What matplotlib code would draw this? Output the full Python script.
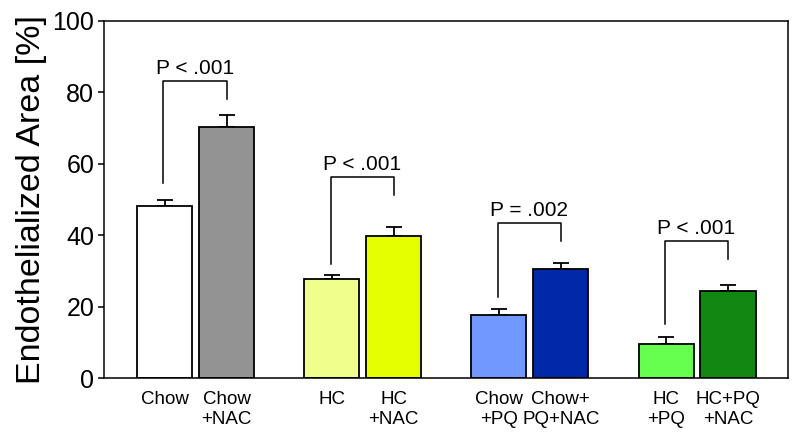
import numpy as np
import matplotlib
matplotlib.use("Agg")
import matplotlib.pyplot as plt

plt.rcParams['font.family'] = ['Liberation Sans', 'DejaVu Sans']

labels = ["Chow", "Chow\n+NAC", "HC", "HC\n+NAC",
          "Chow\n+PQ", "Chow+\nPQ+NAC", "HC\n+PQ", "HC+PQ\n+NAC"]
means = [48.2, 70.4, 27.6, 39.8, 17.7, 30.6, 9.5, 24.5]
errs = [1.7, 3.2, 1.3, 2.6, 1.6, 1.5, 2.1, 1.5]
colors = ["#ffffff", "#939393", "#f0ff8c", "#e6ff00",
          "#7098ff", "#0028a8", "#66ff50", "#118811"]

# significance brackets: (left bar, right bar, left leg end, right leg end, top, text)
brackets = [
    (0, 1, 54.7, 78.0, 83.2, "P < .001"),
    (2, 3, 31.8, 51.3, 56.4, "P < .001"),
    (4, 5, 22.6, 38.5, 43.5, "P = .002"),
    (6, 7, 15.1, 33.3, 38.4, "P < .001"),
]

group_gap = 2.7
x = np.array([g * group_gap + k for g in range(4) for k in range(2)])

fig = plt.figure(figsize=(8, 4.36), dpi=100)
ax = fig.add_axes([0.13, 0.133, 0.855, 0.819])

ax.bar(x, means, width=0.89, color=colors, edgecolor="black", linewidth=1.3, zorder=2)
ax.errorbar(x, means, yerr=[np.zeros(len(errs)), errs], fmt="none",
            ecolor="black", elinewidth=1.3, capsize=6, capthick=1.3, zorder=1)

for i, j, yl, yr, top, txt in brackets:
    xl, xr = x[i] - 0.02, x[j]
    ax.plot([xl, xl, xr, xr], [yl, top, top, yr], color="black", lw=1.1)
    ax.annotate(txt, ((xl + xr) / 2, top), xytext=(0, 2), textcoords="offset points",
                ha="center", va="bottom", fontsize=15)

ax.set_xlim(x[0] - 0.98, x[-1] + 0.97)
ax.set_ylim(0, 100)
ax.set_yticks([0, 20, 40, 60, 80, 100])
ax.set_xticks(x)
ax.set_xticklabels(labels, fontsize=13.5, linespacing=1.25)
ax.tick_params(axis="x", length=0, pad=9)
ax.tick_params(axis="y", labelsize=18, length=4, width=1.1, pad=3)
for s in ax.spines.values():
    s.set_linewidth(1.1)
ax.set_ylabel("Endothelialized Area [%]", fontsize=24.5, labelpad=4)

fig.savefig("out.png", dpi=100)
